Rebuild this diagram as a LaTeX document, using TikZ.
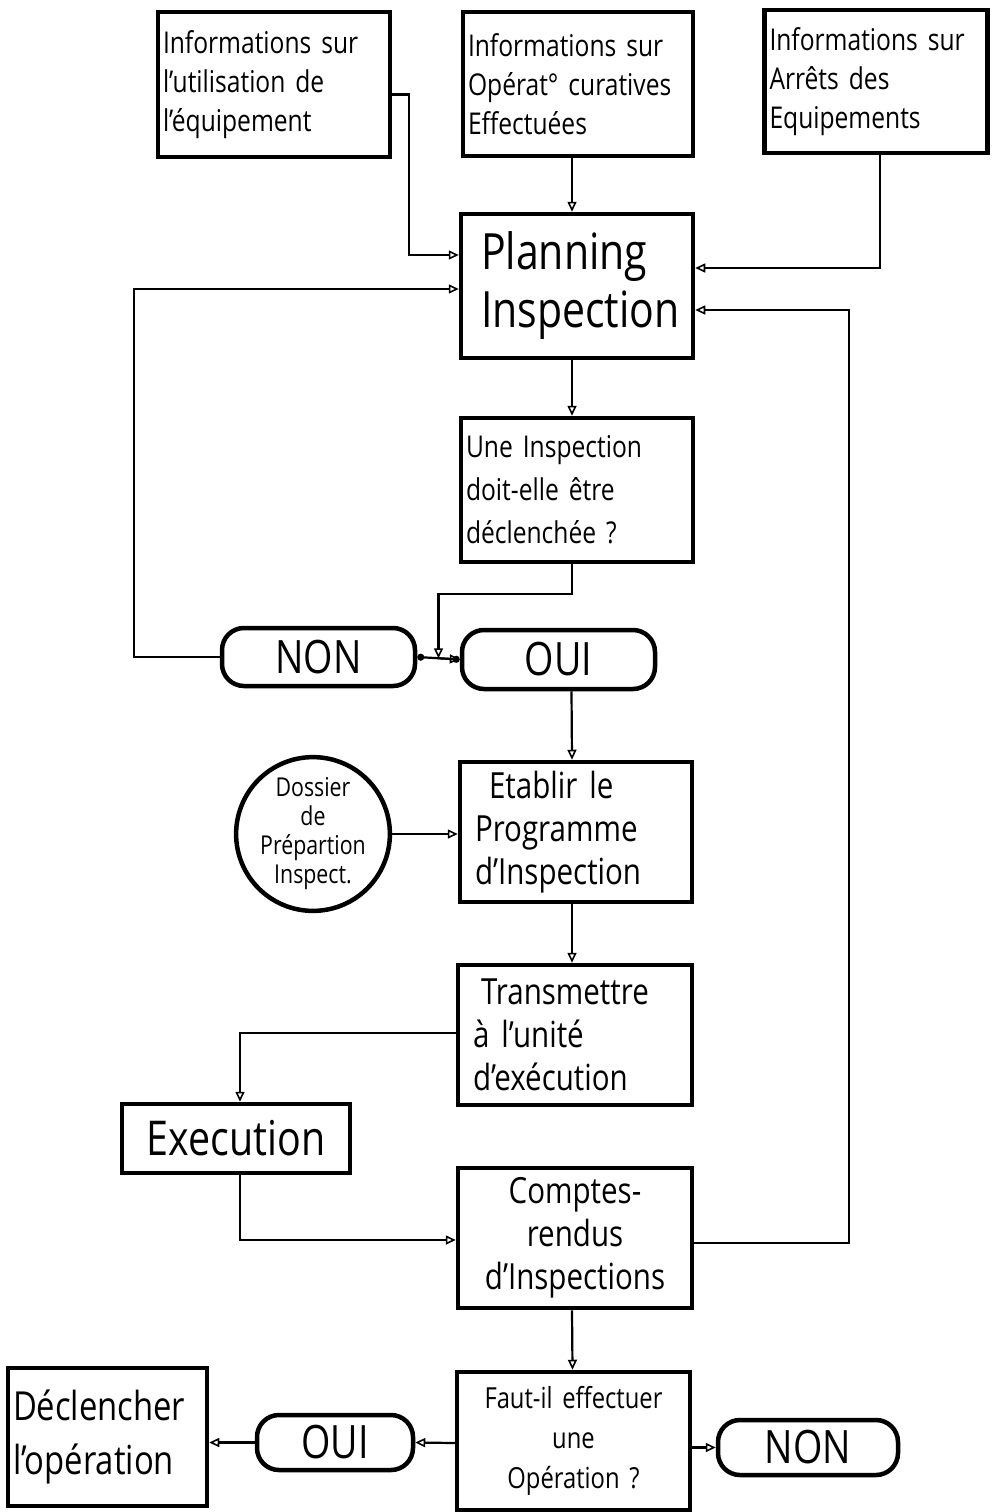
\documentclass[tikz,border=0pt]{standalone}
\usepackage{fontspec}
\setmainfont{Open Sans}[FakeStretch=0.82]
\usetikzlibrary{arrows.meta,calc,shapes.geometric}
\begin{document}
\begin{tikzpicture}[x=1pt,y=-1pt,
  box/.style={draw,line width=4.5pt,inner xsep=5pt,inner ysep=4pt,minimum width=#1},
  pill/.style={draw,line width=4.5pt,rounded corners=22pt,inner sep=2pt},
  conn/.style={line width=2.2pt},
  arr/.style={conn,-{Triangle[open,length=10pt,width=9pt,line width=1.6pt]}},
  txtA/.style={font=\fontsize{30}{39}\selectfont},
  txtB/.style={font=\fontsize{36}{43}\selectfont},
  txtBig/.style={font=\fontsize{50}{58}\selectfont},
  txtPill/.style={font=\fontsize{46}{46}\selectfont}
]
\useasboundingbox (0,0) rectangle (992,1512);

% top information boxes
\node[box=232pt,minimum height=145pt,txtA,align=left,text width=222pt] (info1) at (274,84.5)
  {Informations sur\\l'utilisation de\\l'équipement};
\node[box=230pt,minimum height=144pt,txtA,align=left,text width=220pt] (info2) at (578,84)
  {Informations sur\\Opérat° curatives\\Effectuées};
\node[box=223pt,minimum height=143pt,txtA,align=left,text width=213pt] (info3) at (876,81.5)
  {Informations sur\\Arrêts des\\Equipements};

% planning
\node[box=232pt,minimum height=144pt,txtBig,align=left,text width=220pt] (plan) at (577,286)
  {\hspace*{14pt}Planning\\\hspace*{14pt}Inspection};

% question 1
\node[box=232pt,minimum height=144pt,align=left,text width=222pt,font=\fontsize{30}{43}\selectfont] (q1) at (577,490)
  {Une Inspection\\doit-elle être\\déclenchée ?};

% NON / OUI
\node[pill,minimum width=193pt,minimum height=58pt,txtPill] (non1) at (318.5,657) {NON};
\node[pill,minimum width=193pt,minimum height=59pt,txtPill] (oui1) at (558.5,659.5) {OUI};
\coordinate (j) at ($(non1.east)!0.5!(oui1.west)$);

% dossier
\node[circle,draw,line width=4.5pt,minimum size=152pt,inner sep=0pt,align=center,
  font=\fontsize{26}{29}\selectfont] (dossier) at (313,834)
  {Dossier\\de\\Prépartion\\Inspect.};

% etablir
\node[box=232pt,minimum height=140pt,txtB,align=left,text width=222pt] (etab) at (576,832)
  {\hspace*{24pt}Etablir le\\\hspace*{10pt}Programme\\\hspace*{10pt}d'Inspection};

% transmettre
\node[box=234pt,minimum height=140pt,txtB,align=left,text width=224pt] (trans) at (575,1035)
  {\hspace*{18pt}Transmettre\\\hspace*{10pt}à l'unité\\\hspace*{10pt}d'exécution};

% execution
\node[box=228pt,minimum height=69pt,inner ysep=2pt,font=\fontsize{48}{50}\selectfont] (exec) at (236,1138.5) {Execution};

% comptes rendus
\node[box=234pt,minimum height=140pt,txtB,align=center,text width=224pt] (cr) at (575,1238)
  {Comptes-\\rendus\\d'Inspections};

% faut-il
\node[box=233pt,minimum height=138pt,align=center,text width=223pt,font=\fontsize{29}{40}\selectfont] (faut) at (573.5,1441)
  {Faut-il effectuer\\une\\Opération ?};

% declencher
\node[box=199pt,minimum height=138pt,align=left,text width=189pt,font=\fontsize{40}{54}\selectfont] (decl) at (107.5,1437)
  {Déclencher\\l'opération};

% bottom pills
\node[pill,minimum width=156pt,minimum height=55pt,txtPill] (oui2) at (335,1442.5) {OUI};
\node[pill,minimum width=180pt,minimum height=55pt,txtPill] (non2) at (808,1447.5) {NON};

% connectors into planning
\draw[arr] ([yshift=-10pt]info1.east) -- ++(17,0) |- ([yshift=31pt]plan.west);
\draw[arr] ([xshift=-6pt]info2.south) -- ([xshift=-5pt]plan.north);
\draw[arr] ([xshift=4pt]info3.south) |- ([yshift=18pt]plan.east);
\draw[arr] (non1.west) -- ++(-86,0) |- ([yshift=-3pt]plan.west);
\draw[arr] ([yshift=-5pt]cr.east) -- ++(155,0) |- ([yshift=-24pt]plan.east);

% main flow
\draw[arr] ([xshift=-5pt]plan.south) -- ([xshift=-5pt]q1.north);
\draw[arr] ([xshift=-5pt]q1.south) -- ++(0,30) -| (j);
\draw[conn,{Circle[length=7pt]}-{Circle[length=7pt]}] (non1.east) -- (oui1.west);
\draw[arr] (j) -- (oui1.west);
\draw[arr] ([xshift=13pt]oui1.south) -- ([xshift=-4pt]etab.north);
\draw[arr] (dossier.east) -- (dossier.east -| etab.west);
\draw[arr] ([xshift=-4pt]etab.south) -- ([xshift=-3pt]trans.north);
\draw[arr] ([yshift=2pt]trans.west) -| ([xshift=4pt]exec.north);
\draw[arr] ([xshift=4pt]exec.south) |- ([yshift=-2pt]cr.west);
\draw[arr] ([xshift=-3pt]cr.south) -- ([xshift=-1pt]faut.north);
\draw[arr] ([yshift=-2pt]faut.west) -- (oui2.east);
\draw[arr] (oui2.west) -- (oui2.west -| decl.east);
\draw[arr] (faut.east |- non2.west) -- (non2.west);
\end{tikzpicture}
\end{document}
